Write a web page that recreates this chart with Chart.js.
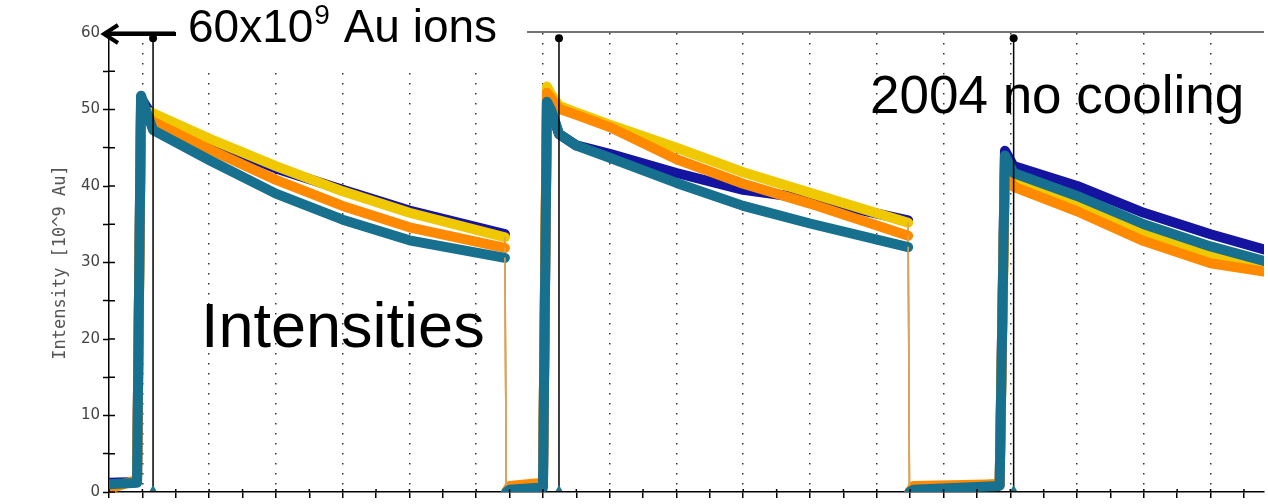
<!DOCTYPE html>
<html>
<head>
<meta charset="utf-8">
<script src="https://cdn.jsdelivr.net/npm/chart.js@4/dist/chart.umd.min.js"></script>
<style>
html, body { margin: 0; padding: 0; background: #fff; }
#wrap { width: 1268px; height: 504px; position: relative; }
</style>
</head>
<body>
<div id="wrap"><canvas id="intensityChart"></canvas></div>
<script>
// time in grid units (one dotted grid line per unit)
var times = [-0.5, -0.08, -0.02, 0.05, 0.16, 1, 2, 3, 4, 5.43, 5.45, 5.5, 6.0, 6.06, 6.12, 6.24, 6.5, 7, 8, 9, 10, 11.47, 11.49, 11.55, 12.84, 12.92, 13.05, 14, 15, 16, 16.8];

// intensities [10^9 Au]
var navyValues   = [1.2, 1.3, 51.5, 50.5, 49.0, 45.8, 42.3, 39.5, 36.8, 33.7, 0, 0.3, 1.0, 51.0, 50.0, 46.8, 45.3, 44.2, 41.7, 39.5, 38.3, 35.5, 0, 0.3, 1.0, 44.6, 42.6, 40.0, 36.5, 33.7, 31.7];
var tealValues   = [1.0, 1.2, 51.8, 50.0, 47.3, 43.4, 39.0, 35.6, 32.9, 30.6, 0, 0.3, 0.6, 51.0, 50.0, 46.8, 45.3, 43.7, 40.4, 37.4, 35.1, 32.0, 0, 0.3, 0.8, 44.0, 41.7, 38.7, 35.0, 32.1, 30.2];
var orangeValues = [0.4, 1.6, 50.0, 49.5, 48.4, 44.8, 40.8, 37.4, 34.6, 31.9, 0, 0.8, 1.2, 52.2, 51.5, 50.1, 49.3, 47.7, 43.5, 40.3, 37.7, 33.5, 0, 0.8, 1.0, 42.0, 39.9, 36.7, 32.8, 29.9, 28.8];
var yellowValues = [0.6, 1.5, 50.5, 49.8, 49.5, 46.2, 42.6, 39.3, 36.5, 33.3, 0, 0.5, 1.0, 53.0, 52.0, 50.5, 49.6, 48.0, 45.0, 41.8, 39.1, 35.2, 0, 0.5, 1.0, 43.0, 41.0, 37.8, 33.8, 31.2, 29.4];

// cursor markers (time, top value)
var cursorTimes = [0.16, 6.24, 13.05];
var cursorTop = 59.3;

function pts(vals) {
    return times.map(function (t, i) { return { x: t, y: vals[i] }; });
}

function isDrop(c) {
    return c.p0.parsed.y - c.p1.parsed.y > 15;
}

function beamSet(label, vals, color, order) {
    return {
        label: label,
        data: pts(vals),
        borderColor: color,
        borderWidth: 10,
        borderCapStyle: 'round',
        borderJoinStyle: 'round',
        pointRadius: 0,
        tension: 0,
        order: order,
        segment: {
            borderWidth: function (c) { return isDrop(c) ? 1.5 : undefined; },
            borderColor: function (c) { return isDrop(c) ? '#d9a45c' : undefined; }
        }
    };
}

var datasets = cursorTimes.map(function (t) {
    return {
        label: 'cursor',
        data: [{ x: t, y: cursorTop }, { x: t, y: 0.4 }],
        borderColor: '#000',
        borderWidth: 1.5,
        pointRadius: [4, 4],
        pointStyle: ['circle', 'triangle'],
        pointBackgroundColor: ['#000', '#1f7a8c'],
        pointBorderWidth: 0,
        order: 0
    };
});
datasets.push(beamSet('teal', tealValues, '#16708e', 1));
datasets.push(beamSet('orange', orangeValues, '#ff8a00', 2));
datasets.push(beamSet('yellow', yellowValues, '#f0c800', 3));
datasets.push(beamSet('navy', navyValues, '#1414a0', 4));

var overlay = {
    id: 'overlay',
    afterDraw: function (chart) {
        var ctx = chart.ctx, a = chart.chartArea;
        var ys = chart.scales.y, xs = chart.scales.x;
        ctx.save();
        // top frame
        ctx.strokeStyle = '#444';
        ctx.lineWidth = 1.5;
        ctx.beginPath();
        ctx.moveTo(a.left, a.top - 1);
        ctx.lineTo(a.right, a.top - 1);
        ctx.stroke();
        // inner tick marks
        ctx.strokeStyle = '#000';
        ctx.beginPath();
        ys.ticks.forEach(function (t) {
            var p = ys.getPixelForValue(t.value);
            ctx.moveTo(a.left, p);
            ctx.lineTo(a.left + 6, p);
        });
        xs.ticks.forEach(function (t) {
            var p = xs.getPixelForValue(t.value);
            ctx.moveTo(p, a.bottom);
            ctx.lineTo(p, a.bottom - 3);
        });
        ctx.stroke();
        // label box over the frame
        ctx.fillStyle = '#fff';
        ctx.fillRect(175, 0, 352, 66);
        // arrow to 60
        ctx.strokeStyle = '#000';
        ctx.lineWidth = 4;
        ctx.beginPath();
        ctx.moveTo(104, 34);
        ctx.lineTo(176, 34);
        ctx.moveTo(118, 25);
        ctx.lineTo(104, 34);
        ctx.lineTo(118, 43);
        ctx.stroke();
        // texts
        ctx.fillStyle = '#000';
        ctx.textBaseline = 'alphabetic';
        ctx.font = '46px "Liberation Sans", Arial, sans-serif';
        ctx.fillText('60x10', 188, 42);
        var w = ctx.measureText('60x10').width;
        ctx.font = '28px "Liberation Sans", Arial, sans-serif';
        ctx.fillText('9', 188 + w + 1, 24);
        var w2 = ctx.measureText('9').width;
        ctx.font = '46px "Liberation Sans", Arial, sans-serif';
        ctx.fillText(' Au ions', 188 + w + w2 + 2, 42);
        ctx.font = '53px "Liberation Sans", Arial, sans-serif';
        ctx.fillText('2004 no cooling', 870, 113);
        ctx.font = '63px "Liberation Sans", Arial, sans-serif';
        ctx.fillText('Intensities', 201, 347);
        ctx.restore();
    }
};

new Chart(document.getElementById('intensityChart'), {
    type: 'line',
    data: { datasets: datasets },
    options: {
        responsive: true,
        maintainAspectRatio: false,
        animation: false,
        layout: { padding: { top: 33, right: 0, bottom: 2, left: 0 } },
        plugins: { legend: { display: false }, tooltip: { enabled: false } },
        scales: {
            x: {
                type: 'linear',
                min: -0.5,
                max: 16.8,
                ticks: { display: false, stepSize: 0.5, includeBounds: false },
                grid: {
                    color: function (c) {
                        var v = c.tick ? c.tick.value : 0.5;
                        return Math.abs(v - Math.round(v)) < 1e-6 ? '#333' : 'rgba(0,0,0,0)';
                    },
                    lineWidth: 1.5,
                    tickColor: '#000',
                    tickWidth: 1.5,
                    tickLength: 6,
                    tickBorderDash: []
                },
                border: { color: '#000', width: 1.5, dash: [1.5, 8.5] }
            },
            y: {
                min: 0,
                max: 60,
                afterFit: function (s) { s.width = 109; },
                ticks: {
                    stepSize: 5,
                    padding: 3,
                    color: '#444',
                    font: { family: '"DejaVu Sans", sans-serif', size: 15 },
                    callback: function (v) { return v % 10 === 0 ? v : ''; }
                },
                grid: {
                    drawOnChartArea: false,
                    tickColor: '#000',
                    tickWidth: 1.5,
                    tickLength: 6
                },
                border: { color: '#000', width: 1.5 },
                title: {
                    display: true,
                    text: 'Intensity [10^9 Au]',
                    color: '#555',
                    font: { family: '"DejaVu Sans Mono", monospace', size: 17 },
                    padding: { top: 50, bottom: 0 }
                }
            }
        }
    },
    plugins: [overlay]
});
</script>
</body>
</html>
